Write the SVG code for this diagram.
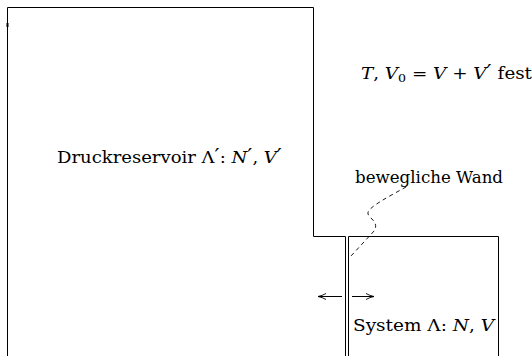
<svg xmlns="http://www.w3.org/2000/svg" width="532" height="356" viewBox="0 0 532 356">
<style>
.ln{fill:none;stroke:#000;stroke-width:1}
.t{font-family:"DejaVu Serif","Liberation Serif",serif;font-size:16px;fill:#000}
.m{font-style:italic}
.p{font-size:20px}
.d{fill:none;stroke:#000;stroke-width:0.9;stroke-dasharray:4,3.5}
</style>
<defs>
<marker id="ah" markerWidth="10" markerHeight="8" refX="8" refY="4" orient="auto" markerUnits="userSpaceOnUse">
<path d="M0,1 Q4,3.3 8,4 Q4,4.7 0,7" fill="none" stroke="#000" stroke-width="0.9"/>
</marker>
</defs>
<g id="reservoir">
<path class="ln" d="M7.5,356 V7.5 H313.5 V236.5 H345.5"/>
<rect x="6.5" y="23" width="2" height="4" fill="#000"/>
<text class="t" x="57" y="163" textLength="225" lengthAdjust="spacingAndGlyphs">Druckreservoir Λ<tspan class="p">′</tspan>:  <tspan class="m">N</tspan><tspan class="p">′</tspan>, <tspan class="m">V</tspan><tspan class="p">′</tspan></text>
</g>
<g id="wall">
<line class="ln" x1="345.5" y1="236.5" x2="345.5" y2="356"/>
<line class="ln" x1="348.5" y1="236.5" x2="348.5" y2="356"/>
<text class="t" x="355" y="183" textLength="148" lengthAdjust="spacingAndGlyphs">bewegliche Wand</text>
</g>
<g id="system">
<path class="ln" d="M348.5,236.5 H498.5 V356"/>
<text class="t" x="353" y="331" textLength="141" lengthAdjust="spacingAndGlyphs">System Λ:  <tspan class="m">N</tspan>, <tspan class="m">V</tspan></text>
</g>
<g id="label">
<text class="t" x="361" y="79" textLength="171" lengthAdjust="spacingAndGlyphs"><tspan class="m">T</tspan>, <tspan class="m">V</tspan><tspan font-size="11" dy="3">0</tspan><tspan dy="-3"> = </tspan><tspan class="m">V</tspan> + <tspan class="m">V</tspan><tspan class="p">′</tspan> fest</text>
</g>
<g id="connectors">
<path class="d" d="M406,187 C390,196 366,208 368,214 C370,219 378,221 375,230 L351,256"/>
<line class="ln" x1="342" y1="296.5" x2="318" y2="296.5" marker-end="url(#ah)"/>
<line class="ln" x1="352" y1="296.5" x2="374" y2="296.5" marker-end="url(#ah)"/>
</g>
</svg>
